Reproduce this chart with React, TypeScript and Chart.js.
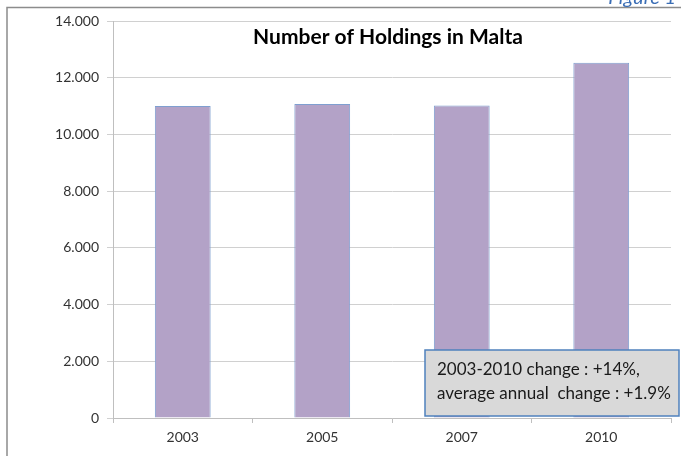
import React, { useEffect, useRef } from "react";
import { Chart, registerables } from "chart.js";

Chart.register(...registerables);

const years = ["2003", "2005", "2007", "2010"];
const holdings = [11000, 11070, 11020, 12530];
const yMin = 0;
const yMax = 14000;
const yStep = 2000;
const titleText = "Number of Holdings in Malta";
const noteLines = ["2003-2010 change : +14%,", "average annual  change : +1.9%"];
const figureLabel = "Figure 1";

const FONT = "Lato, 'Open Sans', sans-serif";

const fmt = (v: number) => String(Math.round(v)).replace(/\B(?=(\d{3})+(?!\d))/g, ".");

const decorPlugin = {
  id: "decor",
  beforeDraw(chart: any) {
    const ctx = chart.ctx;
    ctx.save();
    ctx.strokeStyle = "#8c8c8c";
    ctx.lineWidth = 1.5;
    ctx.beginPath();
    ctx.moveTo(7, chart.height);
    ctx.lineTo(7, 7.5);
    ctx.lineTo(chart.width, 7.5);
    ctx.stroke();
    ctx.fillStyle = "#3a6db5";
    ctx.font = `italic 20px ${FONT}`;
    ctx.textAlign = "right";
    ctx.textBaseline = "alphabetic";
    ctx.fillText(figureLabel, 676, 4);
    ctx.restore();
  },
  afterDraw(chart: any) {
    const ctx = chart.ctx;
    const area = chart.chartArea;
    ctx.save();
    ctx.fillStyle = "#000000";
    ctx.font = `bold 21px ${FONT}`;
    ctx.textAlign = "center";
    ctx.textBaseline = "alphabetic";
    ctx.fillText(titleText, (area.left + area.right) / 2 - 4, 44);

    const bx = 425, by = 350, bw = 254, bh = 66;
    ctx.fillStyle = "#d9d9d9";
    ctx.fillRect(bx, by, bw, bh);
    ctx.strokeStyle = "#4f81bd";
    ctx.lineWidth = 1.5;
    ctx.strokeRect(bx, by, bw, bh);
    ctx.fillStyle = "#1a1a1a";
    ctx.font = `17px ${FONT}`;
    ctx.textAlign = "left";
    noteLines.forEach((t, i) => ctx.fillText(t, 437, 375 + i * 24));
    ctx.restore();
  },
};

export default function App() {
  const ref = useRef<HTMLCanvasElement | null>(null);
  useEffect(() => {
    if (!ref.current) return;
    const chart = new Chart(ref.current, {
      type: "bar",
      data: {
        labels: years,
        datasets: [
          {
            data: holdings,
            backgroundColor: "#b3a2c7",
            borderColor: "#7f9fd0",
            borderWidth: 1,
            barPercentage: 0.4,
            categoryPercentage: 1,
          },
        ],
      },
      options: {
        animation: false,
        responsive: true,
        maintainAspectRatio: false,
        layout: { padding: { top: 21, right: 10, left: 0, bottom: 0 } },
        plugins: { legend: { display: false }, tooltip: { enabled: false }, title: { display: false } },
        scales: {
          x: {
            afterFit: (s: any) => { s.height = 38; },
            grid: { display: true, drawOnChartArea: false, drawTicks: true, tickLength: 5, color: "#bfbfbf", offset: true },
            border: { display: true, color: "#bfbfbf" },
            ticks: { color: "#333333", font: { family: FONT, size: 14 }, padding: 6 },
          },
          y: {
            min: yMin,
            max: yMax,
            afterFit: (s: any) => { s.width = 113; },
            grid: { color: "#d0d0d0", tickLength: 6 },
            border: { display: true, color: "#bfbfbf" },
            ticks: { stepSize: yStep, color: "#333333", font: { family: FONT, size: 14 }, padding: 8, callback: (v: any) => fmt(Number(v)) },
          },
        },
      },
      plugins: [decorPlugin],
    });
    return () => chart.destroy();
  }, []);
  return (
    <div style={{ position: "absolute", left: 0, top: 0, width: 681, height: 456, background: "#fff" }}>
      <canvas ref={ref} />
    </div>
  );
}
